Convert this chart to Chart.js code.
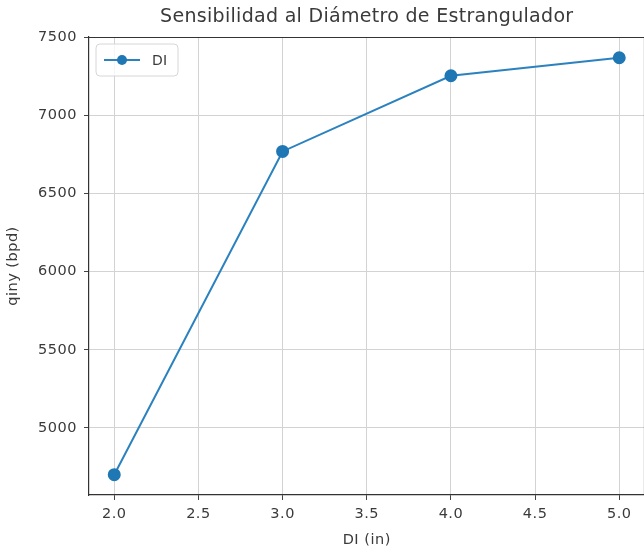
<!DOCTYPE html>
<html>
<head>
<meta charset="utf-8">
<script src="https://cdn.jsdelivr.net/npm/chart.js@4/dist/chart.umd.min.js"></script>
<style>
  html, body { margin: 0; padding: 0; background: #fff; overflow: hidden; }
  #wrap { width: 652px; height: 549px; }
</style>
</head>
<body>
<div id="wrap"><canvas id="c" width="652" height="549"></canvas></div>
<script>
// ---- data ----
const diameters = [2.0, 3.0, 4.0, 5.0];
const qiny = [4700, 6770, 7255, 7370];
const xTicks = [2.0, 2.5, 3.0, 3.5, 4.0, 4.5, 5.0];
const yTicks = [5000, 5500, 6000, 6500, 7000, 7500];
const seriesLabel = 'DI';
const titleText = 'Sensibilidad al Diámetro de Estrangulador';
const xTitle = 'DI (in)';
const yTitle = 'qiny (bpd)';

const BLUE = '#1f77b4';
const TEXT = '#3a3a3a';
const FONT = 'DejaVu Sans';
const SPACING = '0.5px';

const spacing = {
  id: 'spacing',
  beforeUpdate(chart) { chart.ctx.letterSpacing = SPACING; },
  beforeLayout(chart) { chart.ctx.letterSpacing = SPACING; },
  beforeDraw(chart) { chart.ctx.letterSpacing = SPACING; }
};

const overlay = {
  id: 'overlay',
  afterDraw(chart) {
    const ctx = chart.ctx;
    const a = chart.chartArea;
    ctx.save();
    ctx.letterSpacing = '0.3px';
    // top and right spines
    ctx.strokeStyle = '#333';
    ctx.lineWidth = 1.2;
    ctx.beginPath();
    ctx.moveTo(a.left, a.top + 0.5);
    ctx.lineTo(a.right, a.top + 0.5);
    ctx.lineTo(a.right, a.bottom);
    ctx.stroke();
    // title
    ctx.fillStyle = TEXT;
    ctx.font = '19px "' + FONT + '"';
    ctx.textAlign = 'center';
    ctx.textBaseline = 'middle';
    ctx.fillText(titleText, (a.left + a.right) / 2, 17);
    // legend
    const lx = a.left + 7, ly = a.top + 7, lw = 82, lh = 32, r = 4;
    ctx.beginPath();
    ctx.moveTo(lx + r, ly);
    ctx.arcTo(lx + lw, ly, lx + lw, ly + lh, r);
    ctx.arcTo(lx + lw, ly + lh, lx, ly + lh, r);
    ctx.arcTo(lx, ly + lh, lx, ly, r);
    ctx.arcTo(lx, ly, lx + lw, ly, r);
    ctx.closePath();
    ctx.fillStyle = 'rgba(255,255,255,0.8)';
    ctx.fill();
    ctx.strokeStyle = '#d6d6d6';
    ctx.lineWidth = 1;
    ctx.stroke();
    const cy = ly + lh / 2;
    ctx.strokeStyle = '#2b82bf';
    ctx.lineWidth = 2;
    ctx.beginPath();
    ctx.moveTo(lx + 8, cy);
    ctx.lineTo(lx + 44, cy);
    ctx.stroke();
    ctx.fillStyle = BLUE;
    ctx.beginPath();
    ctx.arc(lx + 26, cy, 5, 0, Math.PI * 2);
    ctx.fill();
    ctx.fillStyle = TEXT;
    ctx.font = '14px "' + FONT + '"';
    ctx.textAlign = 'left';
    ctx.fillText(seriesLabel, lx + 56, cy + 1);
    ctx.restore();
  }
};

new Chart(document.getElementById('c'), {
  type: 'line',
  data: {
    datasets: [{
      label: seriesLabel,
      data: diameters.map((d, i) => ({ x: d, y: qiny[i] })),
      borderColor: '#2b82bf',
      backgroundColor: BLUE,
      borderWidth: 2,
      pointRadius: 5.5,
      pointHoverRadius: 5.5,
      pointBackgroundColor: BLUE,
      pointBorderColor: BLUE,
      tension: 0,
      fill: false
    }]
  },
  options: {
    responsive: false,
    animation: false,
    devicePixelRatio: 1,
    layout: { padding: { top: 37, right: 4.4, left: 0, bottom: 0 } },
    plugins: {
      legend: { display: false },
      title: { display: false },
      tooltip: { enabled: false }
    },
    scales: {
      x: {
        type: 'linear',
        min: 1.85,
        max: 5.15,
        afterBuildTicks: s => { s.ticks = xTicks.map(v => ({ value: v })); },
        afterFit: s => { s.height = 54; s.paddingLeft = 0; s.paddingRight = 0; },
        ticks: {
          color: TEXT,
          font: { family: FONT, size: 14.5 },
          padding: 6,
          maxRotation: 0,
          autoSkip: false,
          callback: v => Number(v).toFixed(1)
        },
        grid: { color: '#d3d3d3', lineWidth: 1, tickLength: 5, tickColor: '#444', drawTicks: true },
        border: { color: '#333', width: 1.2 },
        title: { display: true, text: xTitle, color: TEXT, font: { family: FONT, size: 14.5 }, padding: { top: 0, bottom: 0 } }
      },
      y: {
        type: 'linear',
        min: 4570,
        max: 7503,
        afterBuildTicks: s => { s.ticks = yTicks.map(v => ({ value: v })); },
        afterFit: s => { s.width = 89; },
        ticks: {
          color: TEXT,
          font: { family: FONT, size: 14.5 },
          padding: 7,
          autoSkip: false,
          callback: v => String(v)
        },
        grid: { color: '#d3d3d3', lineWidth: 1, tickLength: 5, tickColor: '#444', drawTicks: true },
        border: { color: '#333', width: 1.2 },
        title: { display: true, text: yTitle, color: TEXT, font: { family: FONT, size: 14.5 }, padding: { top: 5, bottom: 0 } }
      }
    }
  },
  plugins: [spacing, overlay]
});
</script>
</body>
</html>
